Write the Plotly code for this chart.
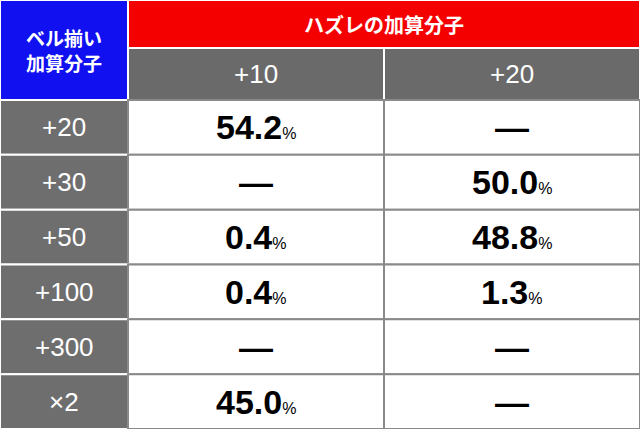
import plotly.graph_objects as go

row_labels = ["+20", "+30", "+50", "+100", "+300", "×2"]
col_labels = ["+10", "+20"]
values = [
    ["54.2", None],
    [None, "50.0"],
    ["0.4", "48.8"],
    ["0.4", "1.3"],
    [None, None],
    ["45.0", None],
]
corner_title = "ベル揃い<br>加算分子"
group_title = "ハズレの加算分子"

W, H = 640, 429
left_w = 128
col_w = (W - left_w) / 2
top_h = 48
head_h = 100
row_h = (H - head_h) / len(row_labels)

fig = go.Figure()
shapes = []
ann = []
jp = "Noto Sans CJK JP"
num = "Liberation Sans, Arial"

def rect(x0, y0, x1, y1, color, line="white"):
    shapes.append(dict(type="rect", x0=x0, y0=y0, x1=x1, y1=y1, fillcolor=color,
                       line=dict(color=line, width=2), layer="below"))

def text(x, y, s, size, color="white", family=num):
    ann.append(dict(x=x, y=y, text=s, showarrow=False, xanchor="center", yanchor="middle",
                    font=dict(family=family, size=size, color=color)))

rect(0, 0, left_w, head_h, "#1010f0")
text(left_w / 2, head_h / 2, "<b>" + corner_title + "</b>", 19, family=jp)
rect(left_w, 0, W, top_h, "#f50000")
text(left_w + col_w, top_h / 2, "<b>" + group_title + "</b>", 20, family=jp)
for j, c in enumerate(col_labels):
    x0 = left_w + j * col_w
    rect(x0, top_h, x0 + col_w, head_h, "#6a6a6a")
    text(x0 + col_w / 2, (top_h + head_h) / 2, c, 26)

for i, r in enumerate(row_labels):
    y0 = head_h + i * row_h
    rect(0, y0, left_w, y0 + row_h, "#6e6e6e")
    text(left_w / 2, y0 + row_h / 2, r, 26)
    for j in range(2):
        x0 = left_w + j * col_w
        rect(x0, y0, x0 + col_w, y0 + row_h, "white", line="#8a8a8a")
        v = values[i][j]
        s = "<b>—</b>" if v is None else "<b>" + v + "</b><span style='font-size:16px'>%</span>"
        text(x0 + col_w / 2, y0 + row_h / 2, s, 34, "black")

fig.update_layout(
    width=W, height=H, margin=dict(l=0, r=0, t=0, b=0),
    paper_bgcolor="white", plot_bgcolor="white",
    shapes=shapes, annotations=ann,
    xaxis=dict(range=[0, W], visible=False, fixedrange=True),
    yaxis=dict(range=[H, 0], visible=False, fixedrange=True),
    showlegend=False,
)
fig.write_html("out.html", config={"displayModeBar": False},
               post_script="document.body.style.margin='0';document.body.style.overflow='hidden';")
